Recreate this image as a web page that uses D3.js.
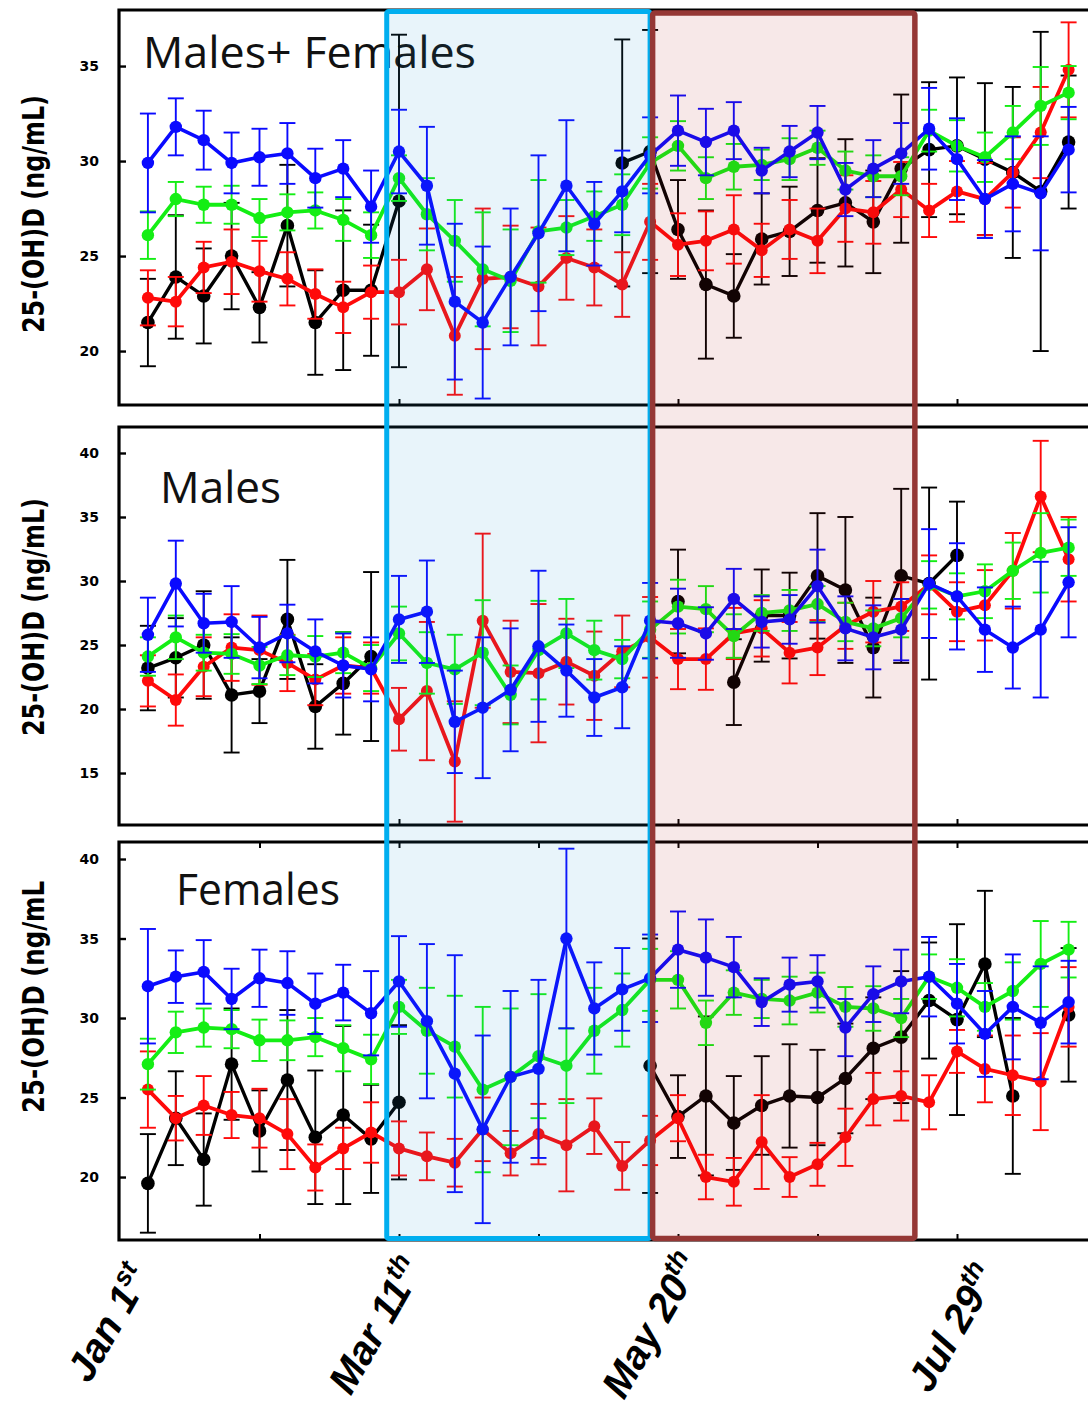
<!DOCTYPE html>
<html><head><meta charset="utf-8">
<script src="https://cdn.jsdelivr.net/npm/d3@7"></script>
<style>body{margin:0;background:#fff}svg{display:block}</style>
</head><body>
<svg id="c" width="1088" height="1407"></svg>
<script>
// ---------------- DATA ----------------
const weeks = d3.range(1, 35); // weekly samples, week 0 = Jan 1st
const dateTicks = [0, 10, 20, 30];
const dateMain = ["Jan 1", "Mar 11", "May 20", "Jul 29"];
const dateSup = ["st", "th", "th", "th"];
const panelTitles = ["Males+ Females", "Males", "Females"];
const yTitles = ["25-(OH)D (ng/mL)", "25-(OH)D (ng/mL)", "25-(OH)D (ng/mL"];
const yTicksMF = [20, 25, 30, 35];
const yTicksM = [15, 20, 25, 30, 35, 40];
const yTicksF = [20, 25, 30, 35, 40];
const seriesNames = ["black", "red", "green", "blue"];
const N = null;

// Males + Females
const mfBlack = [21.5,23.9,22.9,25.0,22.3,26.6,21.5,23.2,23.2,27.9,N,N,N,N,N,N,N,29.9,30.5,26.4,23.5,22.9,25.9,26.3,27.4,27.8,26.8,29.6,30.6,30.8,30.1,29.4,28.4,31.0];
const mfBlackErr = [2.3,3.25,2.5,2.8,1.85,3.2,2.75,4.2,3.45,8.75,N,N,N,N,N,N,N,6.5,6.4,2.6,3.9,2.2,2.4,2.35,2.75,3.35,2.7,3.9,3.55,3.6,4.0,4.5,8.4,3.5];
const mfRed = [22.8,22.6,24.4,24.7,24.2,23.8,23.0,22.3,23.1,23.1,24.3,20.8,23.8,23.9,23.4,24.9,24.4,23.5,26.8,25.6,25.8,26.4,25.3,26.4,25.8,27.5,27.3,28.5,27.4,28.4,28.0,29.4,31.5,34.8];
const mfRedErr = [1.45,1.3,1.35,1.7,1.6,1.4,1.3,1.35,1.4,1.7,2.15,3.1,3.7,2.7,3.1,2.2,2.0,1.7,2.0,1.65,1.55,1.8,1.4,1.55,1.7,1.75,1.65,1.45,1.4,1.6,1.9,1.85,2.4,2.5];
const mfGreen = [26.1,28.0,27.7,27.7,27.0,27.3,27.4,26.9,26.1,29.1,27.2,25.8,24.3,23.7,26.3,26.5,27.1,27.7,29.9,30.8,29.1,29.7,29.8,30.1,30.7,29.5,29.2,29.2,31.6,30.8,30.2,31.5,32.9,33.6];
const mfGreenErr = [1.25,0.9,0.95,1.0,1.0,0.95,0.95,1.1,1.2,1.2,1.9,2.15,3.0,2.7,2.7,1.45,1.3,1.6,1.35,1.3,1.1,1.2,0.8,1.1,0.9,1.0,1.1,1.0,1.1,1.35,1.3,1.4,2.05,1.4];
const mfBlue = [29.9,31.8,31.1,29.9,30.2,30.4,29.1,29.6,27.6,30.5,28.7,22.6,21.5,23.9,26.2,28.7,26.7,28.4,30.3,31.6,31.0,31.6,29.5,30.5,31.5,28.5,29.6,30.4,31.7,30.1,28.0,28.8,28.3,30.6];
const mfBlueErr = [2.6,1.5,1.55,1.6,1.5,1.6,1.55,1.5,1.9,2.2,3.1,4.1,4.0,3.6,4.1,3.45,2.2,2.15,2.0,1.85,1.75,1.5,1.2,1.35,1.4,1.4,1.5,1.6,2.15,2.15,2.05,2.5,3.0,2.25];

// Males
const mBlack = [23.2,24.0,25.0,21.1,21.4,27.0,20.2,22.0,24.1,N,N,N,N,N,N,N,N,N,N,28.4,N,22.1,27.3,27.3,30.4,29.3,24.8,30.4,29.8,32.0,N,N,N,N];
const mBlackErr = [3.3,3.1,4.2,4.5,2.5,4.65,3.3,4.0,6.6,N,N,N,N,N,N,N,N,N,N,4.05,N,3.35,3.6,3.35,4.9,5.7,3.9,6.8,7.5,4.2,N,N,N,N];
const mRed = [22.2,20.7,23.3,24.8,24.6,23.6,22.3,23.4,23.2,19.2,21.4,15.9,26.9,22.9,22.8,23.7,22.6,24.5,25.6,23.9,23.9,25.9,26.3,24.4,24.8,26.5,27.6,28.0,29.7,27.6,28.1,30.8,36.6,31.7];
const mRedErr = [2.0,2.0,2.3,2.6,2.7,2.2,2.0,2.2,2.0,2.45,5.4,4.7,6.8,4.0,5.4,3.35,3.45,2.8,3.15,2.35,2.4,2.0,2.2,2.4,2.15,1.8,2.4,1.9,2.3,2.3,2.75,2.95,4.35,3.3];
const mGreen = [24.1,25.6,24.4,24.3,23.4,24.2,24.1,24.4,23.2,25.9,23.6,23.1,24.4,21.1,24.6,25.9,24.6,23.9,26.2,28.0,27.8,25.7,27.5,27.7,28.2,26.8,26.3,27.1,29.7,28.8,29.2,30.8,32.2,32.6];
const mGreenErr = [1.5,1.7,1.4,1.55,1.45,1.55,1.6,1.6,1.8,2.1,2.4,2.7,4.1,2.3,3.85,2.7,2.3,1.5,2.2,2.1,1.8,1.7,1.4,1.6,1.4,1.5,1.4,1.5,1.85,1.8,2.1,2.2,3.1,2.2];
const mBlue = [25.8,29.8,26.7,26.8,24.8,25.9,24.5,23.4,23.1,27.0,27.6,19.0,20.1,21.5,24.9,23.0,20.9,21.7,26.9,26.7,25.9,28.6,26.8,27.0,29.6,26.3,25.6,26.2,29.8,28.8,26.2,24.8,26.2,29.9];
const mBlueErr = [2.9,3.35,2.3,2.8,2.4,2.25,2.5,2.5,2.5,3.4,4.0,4.0,5.5,4.8,5.9,3.6,3.0,3.2,2.95,2.7,2.05,2.35,2.0,1.9,2.85,2.5,2.5,2.4,4.25,4.15,3.3,3.2,5.3,4.3];

// Females
const fBlack = [19.6,23.7,21.1,27.1,22.9,26.1,22.5,23.9,22.4,24.7,N,N,N,N,N,N,N,N,27.0,23.8,25.1,23.4,24.5,25.1,25.0,26.2,28.1,28.8,31.1,29.9,33.4,25.1,N,30.2];
const fBlackErr = [3.1,2.95,2.9,3.5,2.55,4.4,4.2,5.6,3.4,4.85,N,N,N,N,N,N,N,N,8.0,2.6,5.0,2.95,3.1,3.25,3.0,3.45,3.2,4.15,3.65,6.0,4.6,4.9,N,4.2];
const fRed = [25.5,23.7,24.5,23.9,23.7,22.7,20.6,21.8,22.8,21.8,21.3,20.9,23.0,21.5,22.7,22.0,23.2,20.7,22.3,23.7,20.0,19.7,22.2,20.0,20.8,22.5,24.9,25.1,24.7,27.9,26.8,26.4,26.0,30.7];
const fRedErr = [2.4,1.4,1.85,1.45,1.85,2.2,1.45,1.3,1.9,1.7,1.5,1.5,2.0,1.4,1.9,2.9,1.75,1.5,1.55,1.45,1.4,1.5,2.95,1.25,1.35,1.8,1.65,1.55,1.7,1.35,2.1,2.5,3.05,2.5];
const fGreen = [27.1,29.1,29.4,29.3,28.6,28.6,28.8,28.1,27.4,30.7,29.2,28.2,25.5,26.3,27.6,27.0,29.2,30.5,32.4,32.4,29.7,31.6,31.2,31.1,31.6,30.7,30.6,30.0,32.6,31.9,30.7,31.7,33.4,34.3];
const fGreenErr = [1.6,1.3,1.2,1.2,1.3,1.25,1.2,1.45,1.55,1.7,2.7,3.2,5.2,4.3,3.9,2.35,2.7,2.3,1.95,1.8,1.4,1.4,1.2,1.5,1.25,1.25,1.4,1.2,1.4,1.8,1.5,1.8,2.7,1.75];
const fBlue = [32.0,32.6,32.9,31.2,32.5,32.2,30.9,31.6,30.3,32.3,29.8,26.5,23.0,26.3,26.8,35.0,30.6,31.8,32.5,34.3,33.8,33.2,31.0,32.1,32.3,29.4,31.5,32.3,32.6,30.9,29.0,30.7,29.7,31.0];
const fBlueErr = [3.6,1.65,2.0,1.9,1.8,2.0,1.9,1.75,2.65,2.85,4.85,7.45,5.9,5.4,5.6,5.65,2.9,2.6,2.75,2.4,2.4,1.9,1.5,1.7,1.65,1.8,1.75,2.0,2.5,2.5,2.7,3.3,3.55,2.6];

// highlighted periods (in weeks)
const periodBlue = [9.56, 19.0];
const periodBrown = [19.09, 28.49];

// ---------------- LAYOUT / STYLE ----------------
const svg = d3.select("#c");
const W = 1088;
const x = d3.scaleLinear().domain([0, 34]).range([120, 120 + 34 * 27.9]);
const AXIS_X = 119;
const colors = {black: "#000000", red: "#ff0a0a", green: "#14ee14", blue: "#0a0aff"};
const lineW = {black: 3.4, red: 3.8, green: 3.8, blue: 3.6};
const radius = {black: 6.8, red: 6.0, green: 6.2, blue: 6.2};

const panels = [
  {top: 10, bottom: 405, domain: [17.16, 37.95], ticks: yTicksMF, titleX: 143, titleY: 68, titleLen: 333, labelY: 214,
   bottomTicks: [10, 20, 30], topTicks: [],
   values: {black: mfBlack, red: mfRed, green: mfGreen, blue: mfBlue},
   errs: {black: mfBlackErr, red: mfRedErr, green: mfGreenErr, blue: mfBlueErr}},
  {top: 427, bottom: 825, domain: [10.94, 42.03], ticks: yTicksM, titleX: 160, titleY: 503, titleLen: 121, labelY: 617,
   bottomTicks: [10, 20, 30], topTicks: [],
   values: {black: mBlack, red: mRed, green: mGreen, blue: mBlue},
   errs: {black: mBlackErr, red: mRedErr, green: mGreenErr, blue: mBlueErr}},
  {top: 842, bottom: 1240, domain: [16.04, 41.07], ticks: yTicksF, titleX: 176, titleY: 905, titleLen: 164, labelY: 997,
   bottomTicks: [5, 10, 15, 20, 25, 30], topTicks: [5, 10, 15, 20, 25, 30],
   values: {black: fBlack, red: fRed, green: fGreen, blue: fBlue},
   errs: {black: fBlackErr, red: fRedErr, green: fGreenErr, blue: fBlueErr}}
];

panels.forEach((p, pi) => {
  const y = d3.scaleLinear().domain(p.domain).range([p.bottom, p.top]);
  const g = svg.append("g");

  // frame
  g.append("path")
    .attr("d", `M${W + 5},${p.top} H${AXIS_X} V${p.bottom} H${W + 5}`)
    .attr("fill", "none").attr("stroke", "#000").attr("stroke-width", 3.2);

  // y axis ticks & labels
  const ya = g.append("g").attr("transform", `translate(${AXIS_X},0)`)
    .call(d3.axisLeft(y).tickValues(p.ticks).tickSize(-7).tickPadding(20));
  ya.select(".domain").remove();
  ya.selectAll(".tick line").attr("stroke", "#000").attr("stroke-width", 2.4);
  ya.selectAll(".tick text").attr("font-family", "DejaVu Sans, sans-serif")
    .attr("font-weight", "bold").attr("font-size", 14).attr("fill", "#000");

  // x ticks (inside)
  const xb = g.append("g").attr("transform", `translate(0,${p.bottom})`)
    .call(d3.axisBottom(x).tickValues(p.bottomTicks).tickSize(-6).tickFormat(""));
  xb.select(".domain").remove();
  xb.selectAll(".tick line").attr("stroke", "#000").attr("stroke-width", 2);
  if (p.topTicks.length) {
    const xt = g.append("g").attr("transform", `translate(0,${p.top})`)
      .call(d3.axisTop(x).tickValues(p.topTicks).tickSize(-6).tickFormat(""));
    xt.select(".domain").remove();
    xt.selectAll(".tick line").attr("stroke", "#000").attr("stroke-width", 2);
  }

  // y title
  g.append("text")
    .attr("transform", `translate(44,${p.labelY}) rotate(-90)`)
    .attr("text-anchor", "middle")
    .attr("font-family", "Liberation Sans Narrow, DejaVu Sans Condensed, sans-serif")
    .attr("font-weight", "bold").attr("font-size", 30)
    .attr("textLength", pi === 2 ? 232 : 238).attr("lengthAdjust", "spacingAndGlyphs")
    .text(yTitles[pi]);

  // panel title
  g.append("text").attr("x", p.titleX).attr("y", p.titleY)
    .attr("font-family", "Open Sans, sans-serif").attr("font-size", 43).attr("fill", "#111")
    .attr("textLength", p.titleLen).attr("lengthAdjust", "spacingAndGlyphs")
    .text(panelTitles[pi]);

  // series
  seriesNames.forEach(s => {
    const vals = p.values[s], errs = p.errs[s];
    const pts = weeks.map((w, i) => ({w, v: vals[i], e: errs[i]})).filter(d => d.v != null);
    const col = colors[s];
    const eb = g.append("g").attr("stroke", col).attr("stroke-width", 1.9).attr("fill", "none");
    pts.forEach(d => {
      const cx = x(d.w), y1 = y(d.v + d.e), y2 = y(d.v - d.e);
      eb.append("line").attr("x1", cx).attr("x2", cx).attr("y1", y1).attr("y2", y2);
      eb.append("line").attr("x1", cx - 8).attr("x2", cx + 8).attr("y1", y1).attr("y2", y1);
      eb.append("line").attr("x1", cx - 8).attr("x2", cx + 8).attr("y1", y2).attr("y2", y2);
    });
    const line = d3.line().defined(d => d.v != null).x(d => x(d.w)).y(d => y(d.v));
    g.append("path").datum(weeks.map((w, i) => ({w, v: vals[i]})))
      .attr("d", line).attr("fill", "none").attr("stroke", col)
      .attr("stroke-width", lineW[s]).attr("stroke-linejoin", "round");
    g.append("g").selectAll("circle").data(pts).join("circle")
      .attr("cx", d => x(d.w)).attr("cy", d => y(d.v)).attr("r", radius[s]).attr("fill", col);
  });
});

// highlighted periods (semi-transparent overlays)
const yTop = 11.5, yBot = 1238.5;
svg.append("rect")
  .attr("x", x(periodBlue[0])).attr("y", yTop)
  .attr("width", x(periodBlue[1]) - x(periodBlue[0])).attr("height", yBot - yTop)
  .attr("fill", "rgba(25,145,205,0.1)").attr("stroke", "#00aeef").attr("stroke-width", 5).attr("rx", 2);
svg.append("rect")
  .attr("x", x(periodBrown[0])).attr("y", yTop + 1.5)
  .attr("width", x(periodBrown[1]) - x(periodBrown[0])).attr("height", yBot - yTop - 1.5)
  .attr("fill", "rgba(175,25,25,0.1)").attr("stroke", "#953735").attr("stroke-width", 5.5).attr("rx", 2);

// date labels
const labelDx = [32, 26, 25, 42];
const labelDy = [1276, 1268, 1264, 1275];
const lab = svg.append("g").attr("font-family", "Liberation Sans, Arial, sans-serif")
  .attr("font-weight", "bold").attr("font-style", "italic").attr("font-size", 40).attr("fill", "#000");
dateTicks.forEach((w, i) => {
  const t = lab.append("text").attr("text-anchor", "end")
    .attr("transform", `translate(${x(w) + labelDx[i]},${labelDy[i]}) rotate(-60)`);
  t.append("tspan").text(dateMain[i]);
  t.append("tspan").attr("font-size", 26).attr("dy", -16).text(dateSup[i]);
});
</script>
</body></html>
